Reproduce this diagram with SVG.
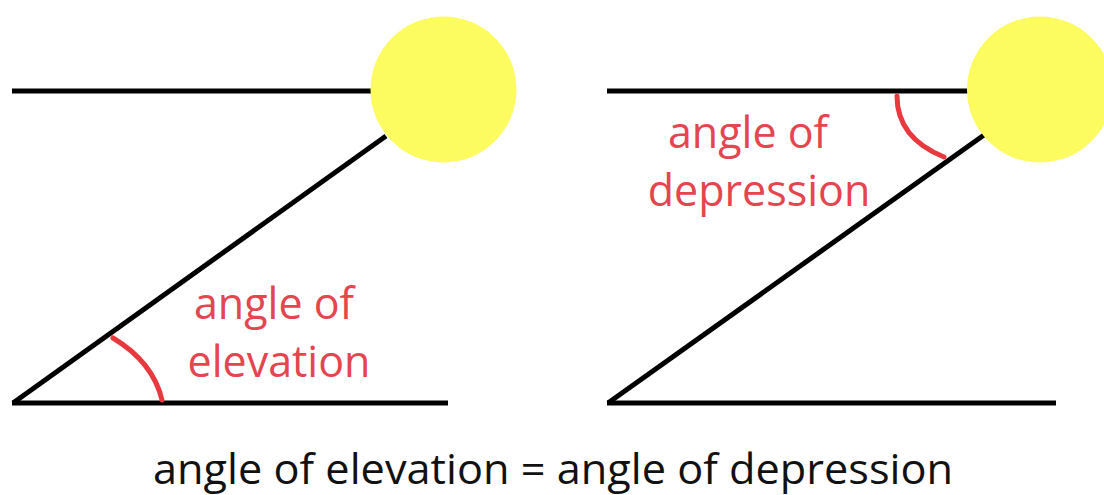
<svg xmlns="http://www.w3.org/2000/svg" width="1104" height="495" viewBox="0 0 1104 495">
<style>
.ln{stroke:#000;stroke-width:5;fill:none;stroke-linecap:butt}
.arc{stroke:#e8393f;stroke-width:5;fill:none;stroke-linecap:round}
.sun{fill:#fcfc60}
.lbl{font-family:"Open Sans","Liberation Sans",sans-serif;font-size:43px;fill:#e5454f;text-anchor:middle}
.cap{font-family:"Open Sans","Liberation Sans",sans-serif;font-size:42px;fill:#111;text-anchor:middle}
</style>
<rect width="1104" height="495" fill="#fff"/>
<g id="connectors">
<line class="ln" x1="12" y1="91" x2="372" y2="91"/>
<line class="ln" x1="13" y1="403" x2="386" y2="136"/>
<line class="ln" x1="12" y1="403" x2="448" y2="403"/>
<line class="ln" x1="607" y1="91" x2="968" y2="91"/>
<line class="ln" x1="608" y1="403" x2="984" y2="135"/>
<line class="ln" x1="607" y1="403" x2="1056" y2="403"/>
</g>
<g id="sun-left"><circle class="sun" cx="443.5" cy="89.5" r="73"/></g>
<g id="sun-right"><circle class="sun" cx="1040" cy="89.5" r="73"/></g>
<g id="angle-elevation">
<path class="arc" d="M113,338 Q153,362 162,400"/>
<text class="lbl" x="274" y="319">angle of</text>
<text class="lbl" x="279" y="377">elevation</text>
</g>
<g id="angle-depression">
<path class="arc" d="M897,96 Q897,138 944,157"/>
<text class="lbl" x="748" y="148">angle of</text>
<text class="lbl" x="759" y="206">depression</text>
</g>
<g id="caption">
<text class="cap" x="553" y="484" textLength="800" lengthAdjust="spacingAndGlyphs">angle of elevation = angle of depression</text>
</g>
</svg>
